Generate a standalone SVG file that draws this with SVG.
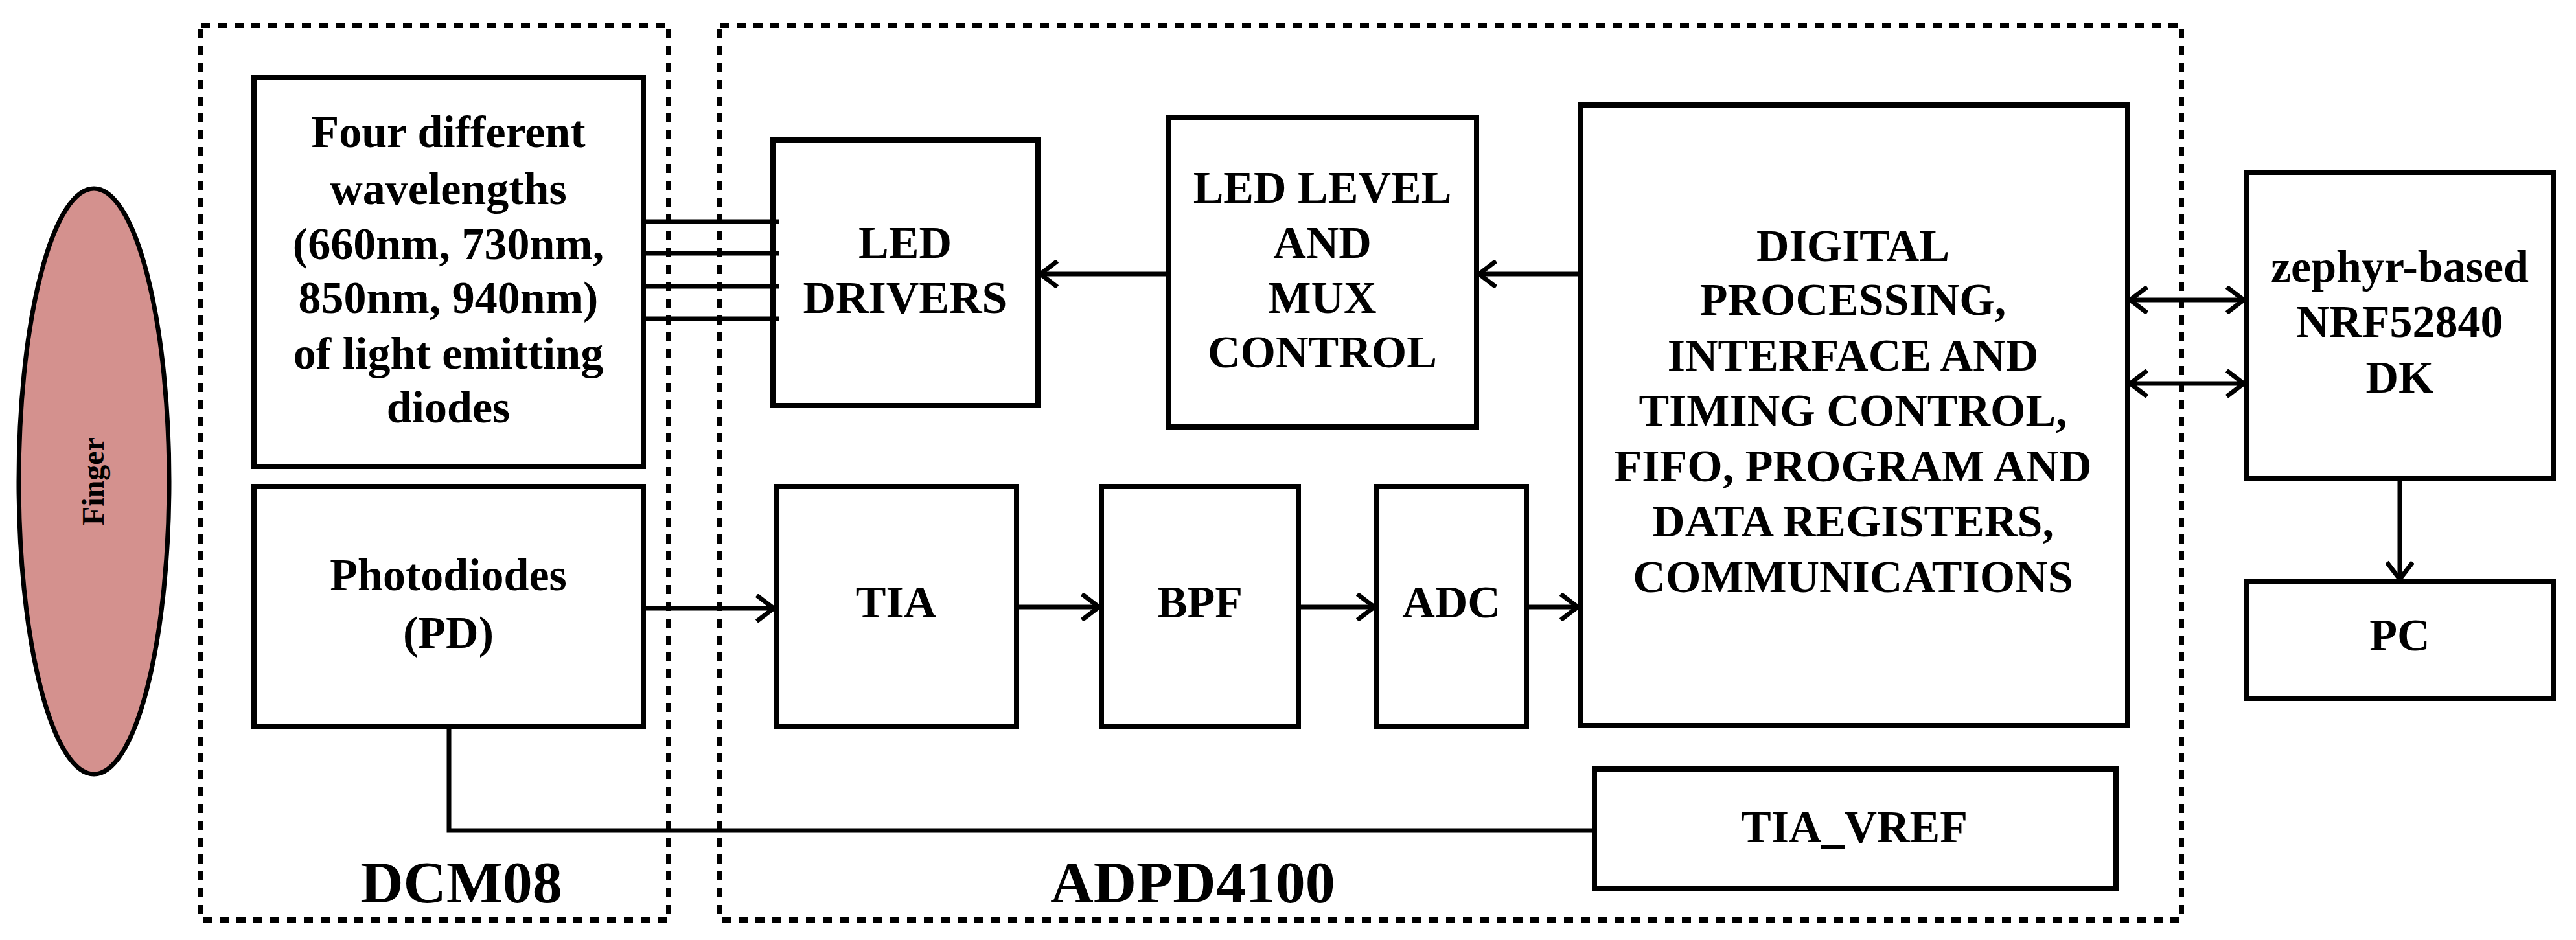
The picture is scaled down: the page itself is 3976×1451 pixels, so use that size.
<svg xmlns="http://www.w3.org/2000/svg" width="3976" height="1451" viewBox="0 0 3976 1451">
<style>
.b{fill:#fff;stroke:#000;stroke-width:8}
.d{fill:none;stroke:#000;stroke-width:8;stroke-dasharray:14 12}
.l{fill:none;stroke:#000;stroke-width:7}
.t{font-family:"Liberation Serif",serif;font-weight:bold;font-size:70px;text-anchor:middle;fill:#000}
.big{font-size:92px}
</style>
<defs>
<marker id="a" viewBox="-30 -22 32 44" refX="0" refY="0" markerWidth="32" markerHeight="44" markerUnits="userSpaceOnUse" orient="auto-start-reverse">
<path d="M-26,-20 L0,0 L-26,20" fill="none" stroke="#000" stroke-width="7"/>
</marker>
</defs>
<rect x="0" y="0" width="3976" height="1451" fill="#fff"/>
<g id="dcm08"><rect class="d" x="310" y="39" width="722" height="1381"/><text class="t big" x="712" y="1393">DCM08</text></g>
<g id="adpd4100"><rect class="d" x="1111" y="39" width="2256" height="1381"/><text class="t big" x="1841" y="1393">ADPD4100</text></g>
<g id="finger"><ellipse cx="145" cy="743" rx="116" ry="452" fill="#d4918e" stroke="#000" stroke-width="7"/><text class="t" style="font-size:48px" transform="translate(160,743) rotate(-90)">Finger</text></g>
<g id="leds"><rect class="b" x="392" y="120" width="601" height="600"/>
<text class="t" x="692" y="227">Four different</text><text class="t" x="692" y="315">wavelengths</text><text class="t" x="692" y="400">(660nm, 730nm,</text><text class="t" x="692" y="483">850nm, 940nm)</text><text class="t" x="692" y="569">of light emitting</text><text class="t" x="692" y="652">diodes</text></g>
<g id="pd"><rect class="b" x="392" y="751" width="601" height="371"/><text class="t" x="692" y="911">Photodiodes</text><text class="t" x="692" y="1000">(PD)</text></g>
<g id="drivers"><rect class="b" x="1193" y="216" width="409" height="410"/><text class="t" x="1397" y="398">LED</text><text class="t" x="1397" y="483">DRIVERS</text></g>
<g id="level"><rect class="b" x="1803" y="182" width="476" height="477"/><text class="t" x="2041" y="313">LED LEVEL</text><text class="t" x="2041" y="398">AND</text><text class="t" x="2041" y="483">MUX</text><text class="t" x="2041" y="567">CONTROL</text></g>
<g id="digital"><rect class="b" x="2439" y="162" width="845" height="958"/>
<text class="t" x="2860" y="403">DIGITAL</text><text class="t" x="2860" y="486">PROCESSING,</text><text class="t" x="2860" y="572">INTERFACE AND</text><text class="t" x="2860" y="657">TIMING CONTROL,</text><text class="t" x="2860" y="743">FIFO, PROGRAM AND</text><text class="t" x="2860" y="828">DATA REGISTERS,</text><text class="t" x="2860" y="914">COMMUNICATIONS</text></g>
<g id="tia"><rect class="b" x="1198" y="751" width="371" height="371"/><text class="t" x="1383" y="953">TIA</text></g>
<g id="bpf"><rect class="b" x="1700" y="751" width="304" height="371"/><text class="t" x="1852" y="953">BPF</text></g>
<g id="adc"><rect class="b" x="2125" y="751" width="231" height="371"/><text class="t" x="2240" y="953">ADC</text></g>
<g id="tiavref"><rect class="b" x="2461" y="1187" width="805" height="185"/><text class="t" x="2862" y="1300">TIA_VREF</text></g>
<g id="zephyr"><rect class="b" x="3467" y="266" width="474" height="472"/><text class="t" x="3704" y="435">zephyr-based</text><text class="t" x="3704" y="520">NRF52840</text><text class="t" x="3704" y="606">DK</text></g>
<g id="pc"><rect class="b" x="3467" y="898" width="474" height="180"/><text class="t" x="3704" y="1004">PC</text></g>
<g id="connectors">
<path class="l" d="M993,342H1203M993,391H1203M993,442H1203M993,492H1203"/>
<path class="l" d="M993,939H1194" marker-end="url(#a)"/>
<path class="l" d="M1569,937H1696" marker-end="url(#a)"/>
<path class="l" d="M2004,937H2121" marker-end="url(#a)"/>
<path class="l" d="M2356,937H2435" marker-end="url(#a)"/>
<path class="l" d="M2439,423H2283" marker-end="url(#a)"/>
<path class="l" d="M1803,423H1606" marker-end="url(#a)"/>
<path class="l" d="M3288,463H3463" marker-start="url(#a)" marker-end="url(#a)"/>
<path class="l" d="M3288,592H3463" marker-start="url(#a)" marker-end="url(#a)"/>
<path class="l" d="M3704,738V894" marker-end="url(#a)"/>
<path class="l" d="M693,1122V1282H2461"/>
</g>
</svg>
